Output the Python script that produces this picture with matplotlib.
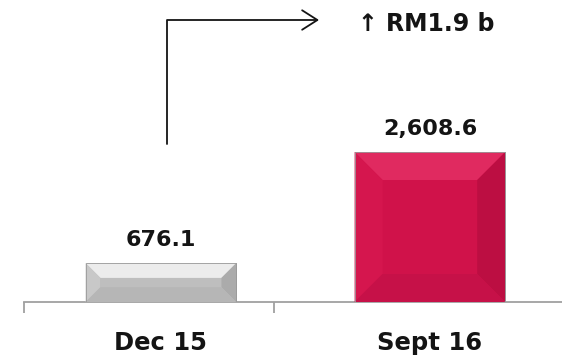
import matplotlib
matplotlib.use("Agg")
import matplotlib.pyplot as plt
from matplotlib.patches import Polygon

categories = ["Dec 15", "Sept 16"]
values = [676.1, 2608.6]
value_labels = ["676.1", "2,608.6"]
change_label = "↑ RM1.9 b"

face_colors = ["#BEBEBE", "#D0124A"]
top_colors = ["#ECECEC", "#E02A60"]
left_colors = ["#C8C8C8", "#D5164E"]
right_colors = ["#ABABAB", "#BC0E42"]
bottom_colors = ["#B6B6B6", "#C61148"]

plt.rcParams['font.family'] = ['DejaVu Sans']
TXT = "#141414"

fig = plt.figure(figsize=(5.62, 3.60), dpi=100)
ax = fig.add_axes([24/562, (360-302)/360, 1-24/562, 302/360])
ax.set_xlim(-0.509, 1.491)
ax.set_ylim(0, 5252)

x = list(range(len(categories)))
bars = ax.bar(x, values, width=0.56, color=face_colors, edgecolor="#9A9A9A", linewidth=0.6, zorder=2)

fig.canvas.draw()
inv = ax.transData.inverted()
for i, b in enumerate(bars):
    x0, y0 = b.get_x(), b.get_y()
    w, h = b.get_width(), b.get_height()
    (px0, py0) = ax.transData.transform((x0, y0))
    (px1, py1) = ax.transData.transform((x0 + w, y0 + h))
    d = min(28, 0.38 * (py1 - py0))
    def P(px, py):
        return inv.transform((px, py))
    outer = [P(px0, py0), P(px1, py0), P(px1, py1), P(px0, py1)]
    inner = [P(px0 + d, py0 + d), P(px1 - d, py0 + d), P(px1 - d, py1 - d), P(px0 + d, py1 - d)]
    ax.add_patch(Polygon([outer[3], outer[2], inner[2], inner[3]], closed=True, color=top_colors[i], lw=0, zorder=3))
    ax.add_patch(Polygon([outer[0], outer[3], inner[3], inner[0]], closed=True, color=left_colors[i], lw=0, zorder=3))
    ax.add_patch(Polygon([outer[1], outer[2], inner[2], inner[1]], closed=True, color=right_colors[i], lw=0, zorder=3))
    ax.add_patch(Polygon([outer[0], outer[1], inner[1], inner[0]], closed=True, color=bottom_colors[i], lw=0, zorder=3))
    ax.add_patch(Polygon(inner, closed=True, color=face_colors[i], lw=0, zorder=3))
    ax.add_patch(Polygon(outer, closed=True, fill=False, edgecolor="#9A9A9A", lw=0.6, zorder=4))
    ax.annotate(value_labels[i], xy=(b.get_x() + w / 2, h), xytext=(0, 12),
                textcoords="offset points", ha="center", va="baseline",
                fontsize=16, fontweight="bold", color=TXT)

# change arrow
ax.annotate("", xy=(0.588, 4904), xytext=(0.022, 2748),
            arrowprops=dict(arrowstyle="->,head_length=0.55,head_width=0.35",
                            connectionstyle="angle,angleA=90,angleB=0,rad=0",
                            color=TXT, lw=1.3, mutation_scale=20,
                            shrinkA=0, shrinkB=0))
ax.text(0.732, 4843, change_label, ha="left", va="center", fontsize=17,
        fontweight="bold", color=TXT)

for s in ["top", "right", "left"]:
    ax.spines[s].set_visible(False)
ax.spines["bottom"].set_color("#A0A0A0")
ax.spines["bottom"].set_linewidth(1.3)
ax.set_yticks([])
ax.set_xticks(x)
ax.set_xticklabels(categories, fontsize=17.5, fontweight="bold", color=TXT)
ax.tick_params(axis="x", which="major", length=0, pad=21)
ax.set_xticks([-0.509, 0.42], minor=True)
ax.tick_params(axis="x", which="minor", length=8, width=1.3, color="#A0A0A0")

fig.savefig("out.png", dpi=100)
